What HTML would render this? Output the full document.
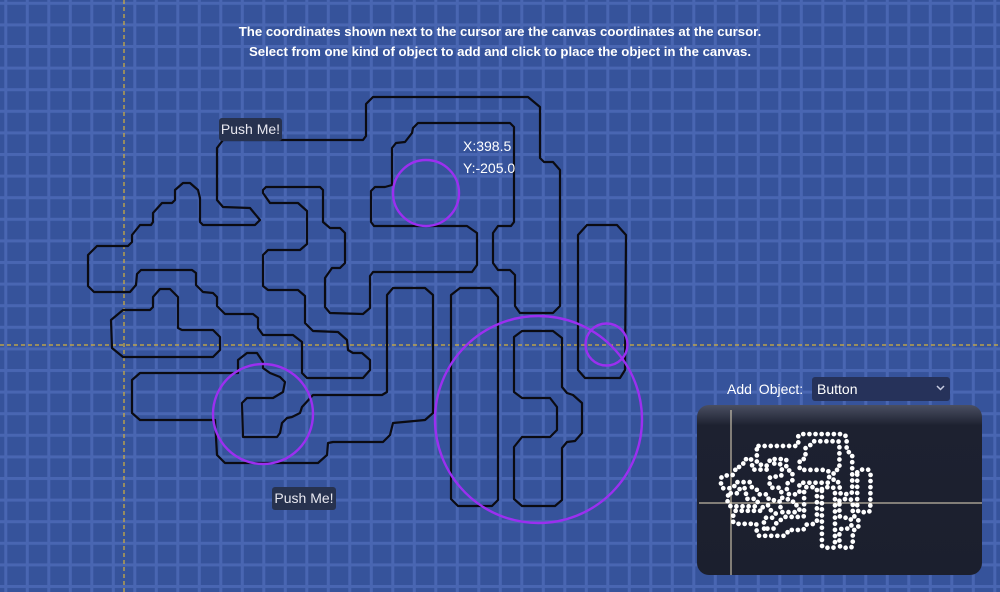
<!DOCTYPE html>
<html><head><meta charset="utf-8"><style>
body{margin:0;width:1000px;height:592px;overflow:hidden;background:#36539b;font-family:"Liberation Sans",sans-serif}
svg{position:absolute;left:0;top:0}
.t{position:absolute;color:#fff;font-size:14px}
.btn{position:absolute;background:#27324f;color:#e8e8f0;font-size:14px;border-radius:3px;text-align:center;line-height:23px}
</style></head><body>
<svg width="1000" height="592">
<defs>
<pattern id="pv" x="4.3" y="0" width="21.5" height="592" patternUnits="userSpaceOnUse"><rect x="0" y="0" width="3" height="592" fill="#4966b2"/></pattern>
<pattern id="ph" x="0" y="1.8" width="1000" height="21.6" patternUnits="userSpaceOnUse"><rect x="0" y="0" width="1000" height="3" fill="#4966b2"/></pattern>
<linearGradient id="pg" x1="0" y1="0" x2="0" y2="1"><stop offset="0" stop-color="#4a4f62"/><stop offset="0.12" stop-color="#1d2130"/><stop offset="1" stop-color="#1b1f2e"/></linearGradient>
<g id="shapes">
<path d="M223,140 L363,140 366,136 366,104 373,97 528,97 540,107 540,158 544,162 553,162 560,170 560,306 553,313 520,313 515,306 515,275 510,270 498,270 493,263 493,233 498,226 511,226 514,222 514,127 510,123 418,123 413,128 412,133 405,142 396,143 392,148 392,185 385,187 375,187 371,191 371,222 374,226 467,226 477,233 477,265 472,272 373,272 370,276 370,308 363,314 330,313 325,307 325,278 332,268 340,268 345,263 345,233 340,228 330,228 323,222 323,190 320,187 266,187 263,190 263,193 270,203 298,203 307,211 307,244 300,250 268,250 263,255 263,286 268,290 298,290 305,296 305,323 313,331 338,332 347,340 348,350 353,353 362,353 370,360 370,370 363,378 307,378 302,373 302,342 293,335 263,335 258,328 258,318 253,314 225,314 217,306 217,297 213,293 203,292 196,285 196,273 192,270 141,270 137,274 136,285 130,292 94,292 88,286 88,255 97,246 128,246 132,242 132,235 140,225 151,225 153,222 153,213 162,203 172,203 175,200 175,190 183,183 190,183 198,190 200,198 200,222 203,225 255,225 260,220 250,208 223,207 217,200 217,148 Z"/>
<path d="M123,310 L150,310 153,307 153,297 160,289 170,289 178,297 178,328 182,330 213,330 220,337 220,350 213,357 123,357 112,348 111,320 Z"/>
<path d="M243,437 L242,403 247,398 273,398 283,392 285,382 280,377 270,373 263,368 263,362 257,353 247,353 238,360 238,373 140,373 132,380 132,413 140,420 215,420 217,455 225,463 318,463 327,455 328,443 333,442 383,442 390,435 393,423 425,420 433,413 433,295 425,288 393,288 387,295 387,392 382,395 313,395 302,407 300,413 292,417 287,418 282,423 280,433 277,437 Z"/>
<path d="M451,295 L460,288 490,288 498,297 498,500 492,506 458,506 451,499 Z"/>
<path d="M514,337 L522,331 553,331 562,338 562,387 567,393 573,395 582,403 582,433 575,441 567,442 562,448 562,500 555,506 522,506 514,499 514,447 522,437 550,437 557,430 557,407 550,398 522,398 514,392 Z"/>
<path d="M578,235 L587,225 617,225 626,235 625,370 620,378 585,378 578,370 Z"/>
</g>
</defs>
<rect width="1000" height="592" fill="url(#pv)"/>
<rect width="1000" height="592" fill="url(#ph)"/>
<line x1="124" y1="0" x2="124" y2="592" stroke="#d6b13a" stroke-width="1.2" stroke-dasharray="4,3"/>
<line x1="0" y1="345" x2="1000" y2="345" stroke="#d6b13a" stroke-width="1.2" stroke-dasharray="4,3"/>
<use href="#shapes" fill="none" stroke="#0b0b12" stroke-width="2.2" stroke-linejoin="round"/>
<g fill="none" stroke="#9b2ff0" stroke-width="2.4">
<circle cx="426" cy="193" r="33"/>
<circle cx="263" cy="414" r="50"/>
<circle cx="538.5" cy="419.5" r="103.5"/>
<circle cx="606.5" cy="344.5" r="21"/>
</g>
<rect x="812" y="377" width="138" height="24" rx="3" fill="#26325a"/>
<path d="M937 386 l3.5 3.5 3.5 -3.5" fill="none" stroke="#c8cce0" stroke-width="1.5"/>
<rect x="697" y="405" width="285" height="170" rx="12" fill="url(#pg)"/>
<line x1="731" y1="410" x2="731" y2="575" stroke="#e8dcc0" stroke-width="1"/>
<line x1="699" y1="503" x2="982" y2="503" stroke="#e8dcc0" stroke-width="1"/>
<g transform="translate(731,503) scale(0.278) translate(-124,-345)">
<use href="#shapes" fill="none" stroke="#fff" stroke-width="17" stroke-linecap="round" stroke-dasharray="0 22"/>
</g>
</svg>
<div class="t" style="left:0;width:1000px;text-align:center;top:22px;line-height:20px;font-size:13.2px;font-weight:bold">The coordinates shown next to the cursor are the canvas coordinates at the cursor.<br>Select from one kind of object to add and click to place the object in the canvas.</div>
<div class="t" style="left:463px;top:138px">X:398.5</div>
<div class="t" style="left:463px;top:160px">Y:-205.0</div>
<div class="btn" style="left:219px;top:118px;width:63px;height:23px">Push Me!</div>
<div class="btn" style="left:272px;top:487px;width:64px;height:23px">Push Me!</div>
<div class="t" style="left:727px;top:381px;word-spacing:3px">Add Object:</div>
<div class="t" style="left:817px;top:381px">Button</div>
</body></html>
